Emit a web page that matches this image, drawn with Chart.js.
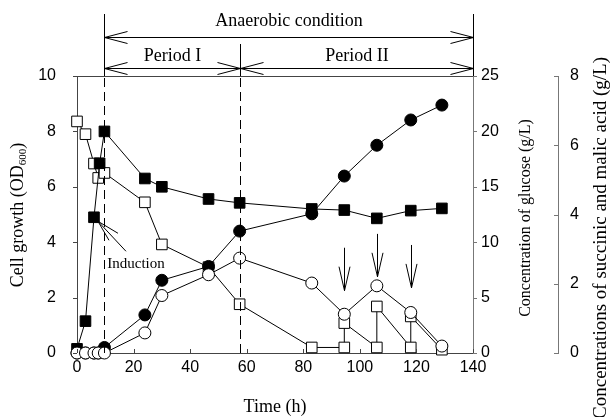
<!DOCTYPE html>
<html><head><meta charset="utf-8">
<script src="https://cdn.jsdelivr.net/npm/chart.js@4/dist/chart.umd.min.js"></script>
<style>html,body{margin:0;padding:0;background:#fff}</style>
</head><body>
<canvas id="c" width="611" height="417"></canvas>
<script>
// ---- data (time in h) ----
const odTime = [0, 3, 6, 8, 9.7, 24, 30, 46.5, 57.5, 83, 94.5, 106, 118, 129];
const odValue = [0.15, 1.15, 4.9, 6.85, 8.0, 6.3, 6.0, 5.56, 5.42, 5.2, 5.16, 4.86, 5.14, 5.22];

const glucoseTime = [0, 3, 6, 7.5, 9.7, 24, 30, 46.5, 57.5, 83, 94.5, 94.5, 106, 106, 118, 118, 129];
const glucoseValue = [20.9, 19.75, 17.1, 15.8, 16.25, 13.6, 9.8, 7.75, 4.4, 0.5, 0.5, 2.7, 0.5, 4.2, 0.5, 3.3, 0.3];

const acidTime = [0, 3, 6, 7.5, 9.7, 24, 30, 46.5, 57.5, 83, 94.5, 106, 118, 129];
const succinicValue = [0, 0, 0, 0, 0.16, 1.1, 2.1, 2.5, 3.52, 4.02, 5.11, 6.0, 6.73, 7.16];
const malicValue = [0, 0, 0, 0, 0, 0.58, 1.66, 2.26, 2.74, 2.02, 1.12, 1.94, 1.17, 0.2];

const xTicks = [0, 20, 40, 60, 80, 100, 120, 140];
const odTicks = [0, 2, 4, 6, 8, 10];
const glucoseTicks = [0, 5, 10, 15, 20, 25];
const acidTicks = [0, 2, 4, 6, 8];

// annotation positions (time, h)
const anaerobicStart = 9.7, periodSplit = 57.7, anaerobicEnd = 140;
const inductionTime = 6, inductionOD = 4.9;
const feedTimes = [94.5, 106, 118];
const feedArrowTop = [3.8, 4.3, 3.9];
const feedArrowTip = [2.25, 2.75, 2.35];

const pairs = (xs, ys) => xs.map((x, i) => ({x, y: ys[i]}));
const tickFont = {family: 'Liberation Sans', size: 16};
const serif = n => n + 'px "Liberation Serif"';

function ds(label, xs, ys, axis, style, fill, r) {
  return {label, data: pairs(xs, ys), yAxisID: axis, showLine: true,
    borderColor: '#000', borderWidth: 1, pointStyle: style, pointRadius: r, pointHoverRadius: r,
    pointBackgroundColor: fill, pointBorderColor: '#000', pointBorderWidth: 1, clip: false};
}

const deco = {
  id: 'deco',
  afterDraw(chart) {
    const c = chart.ctx, a = chart.chartArea, s = chart.scales;
    const x = s.x, y = s.y, yG = s.yG, yA = s.yA;
    c.save();
    c.lineWidth = 1;
    // tick marks
    c.strokeStyle = '#444';
    c.beginPath();
    xTicks.forEach(v => { const px = Math.round(x.getPixelForValue(v)) + 0.5; c.moveTo(px, a.bottom); c.lineTo(px, a.bottom - 4); });
    odTicks.forEach(v => { const py = Math.round(y.getPixelForValue(v)) + 0.5; c.moveTo(a.left, py); c.lineTo(a.left - 4, py); });
    c.stroke();
    c.strokeStyle = '#777';
    c.beginPath();
    glucoseTicks.forEach(v => { const py = Math.round(yG.getPixelForValue(v)) + 0.5; c.moveTo(a.right, py); c.lineTo(a.right + 4, py); });
    acidTicks.forEach(v => { const py = Math.round(yA.getPixelForValue(v)) + 0.5; c.moveTo(yA.left, py); c.lineTo(yA.left - 4, py); });
    c.stroke();
    // top frame line
    c.strokeStyle = '#444';
    c.beginPath();
    c.moveTo(a.left, Math.round(a.top) + 0.5); c.lineTo(a.right, Math.round(a.top) + 0.5);
    c.stroke();
    // vertical period lines
    const x1 = Math.round(x.getPixelForValue(anaerobicStart)) + 0.5;
    const x2 = Math.round(x.getPixelForValue(periodSplit)) + 0.5;
    const x3 = Math.round(x.getPixelForValue(anaerobicEnd)) + 0.5;
    c.strokeStyle = '#000';
    c.setLineDash([9, 5]);
    c.beginPath();
    c.moveTo(x1, a.bottom); c.lineTo(x1, a.top);
    c.moveTo(x2, a.bottom); c.lineTo(x2, a.top);
    c.stroke();
    c.setLineDash([]);
    c.beginPath();
    c.moveTo(x1, a.top); c.lineTo(x1, 14);
    c.moveTo(x2, a.top); c.lineTo(x2, 44);
    c.moveTo(x3, a.top); c.lineTo(x3, 14);
    c.stroke();
    // horizontal double arrows
    function dblArrow(xa, xb, yy) {
      yy = Math.round(yy) + 0.5;
      c.beginPath();
      c.moveTo(xa, yy); c.lineTo(xb, yy);
      c.moveTo(xa + 23, yy - 6); c.lineTo(xa, yy); c.lineTo(xa + 23, yy + 6);
      c.moveTo(xb - 23, yy - 6); c.lineTo(xb, yy); c.lineTo(xb - 23, yy + 6);
      c.stroke();
    }
    dblArrow(x1, x3, 37);
    dblArrow(x1, x2, 68);
    dblArrow(x2, x3, 68);
    c.fillStyle = '#000';
    c.font = serif(18);
    c.textAlign = 'center';
    c.textBaseline = 'middle';
    c.fillText('Anaerobic condition', (x1 + x3) / 2, 21);
    c.fillText('Period I', (x1 + x2) / 2, 56);
    c.fillText('Period II', (x2 + x3) / 2, 56);
    // feed arrows
    feedTimes.forEach((t, i) => {
      const px = Math.round(x.getPixelForValue(t)) + 0.5;
      const top = y.getPixelForValue(feedArrowTop[i]);
      const tip = y.getPixelForValue(feedArrowTip[i]);
      c.beginPath();
      c.moveTo(px, top); c.lineTo(px, tip);
      c.moveTo(px - 5.5, tip - 24); c.lineTo(px, tip); c.lineTo(px + 5.5, tip - 24);
      c.stroke();
    });
    // induction
    const ix = x.getPixelForValue(inductionTime) + 4, iy = y.getPixelForValue(inductionOD) + 4;
    c.beginPath();
    c.moveTo(ix, iy); c.lineTo(ix + 20, iy + 12);
    c.moveTo(ix, iy); c.lineTo(ix + 11, iy + 19);
    c.moveTo(ix, iy); c.lineTo(ix + 28, iy + 30);
    c.stroke();
    c.font = serif(15);
    c.fillText('Induction', 136, 264);
    // axis titles
    c.font = serif(18);
    c.fillText('Time (h)', (a.left + a.right) / 2, 407);
    function vtext(parts, cx, cy) {
      c.save();
      c.translate(cx, cy);
      c.rotate(-Math.PI / 2);
      let w = 0;
      parts.forEach(p => { c.font = p.font; w += c.measureText(p.t).width; });
      let px = -w / 2;
      c.textAlign = 'left';
      parts.forEach(p => { c.font = p.font; c.fillText(p.t, px, p.dy || 0); px += c.measureText(p.t).width; });
      c.restore();
    }
    vtext([{t: 'Cell growth (OD', font: serif(18)}, {t: '600', font: serif(11), dy: 5}, {t: ')', font: serif(18)}], 18, 215);
    vtext([{t: 'Concentration of glucose (g/L)', font: serif(16)}], 526, 218);
    vtext([{t: 'Concentrations of succinic and malic acid (g/L)', font: serif(19)}], 601, 238);
    c.restore();
  }
};

new Chart(document.getElementById('c'), {
  type: 'scatter',
  data: {datasets: [
    ds('Malic acid', acidTime, malicValue, 'yA', 'circle', '#fff', 6),
    ds('Succinic acid', acidTime, succinicValue, 'yA', 'circle', '#000', 6),
    ds('Cell growth', odTime, odValue, 'y', 'rect', '#000', 7.5),
    ds('Glucose', glucoseTime, glucoseValue, 'yG', 'rect', '#fff', 7.5)
  ]},
  options: {
    responsive: false, animation: false, events: [],
    layout: {padding: {top: 76, left: 0, right: 0, bottom: 0}},
    plugins: {legend: {display: false}, tooltip: {enabled: false}},
    scales: {
      x: {type: 'linear', position: 'bottom', min: 0, max: 140,
        afterBuildTicks: sc => { sc.ticks = xTicks.map(v => ({value: v})); },
        ticks: {font: tickFont, color: '#000', padding: 5, maxRotation: 0},
        grid: {display: false, drawTicks: false}, border: {display: true, color: '#444'},
        afterFit: sc => { sc.height = 64; }},
      y: {position: 'left', min: 0, max: 10,
        afterBuildTicks: sc => { sc.ticks = odTicks.map(v => ({value: v})); },
        ticks: {font: tickFont, color: '#000', padding: 21},
        grid: {display: false, drawTicks: false}, border: {display: true, color: '#444'},
        afterFit: sc => { sc.width = 77; }},
      yG: {position: 'right', min: 0, max: 25,
        afterBuildTicks: sc => { sc.ticks = glucoseTicks.map(v => ({value: v})); },
        ticks: {font: tickFont, color: '#000', padding: 8},
        grid: {display: false, drawTicks: false}, border: {display: true, color: '#777'},
        afterFit: sc => { sc.width = 85; }},
      yA: {position: 'right', min: 0, max: 8,
        afterBuildTicks: sc => { sc.ticks = acidTicks.map(v => ({value: v})); },
        ticks: {font: tickFont, color: '#000', padding: 12},
        grid: {display: false, drawTicks: false}, border: {display: true, color: '#777'},
        afterFit: sc => { sc.width = 53; }}
    }
  },
  plugins: [deco]
});
</script>
</body></html>
